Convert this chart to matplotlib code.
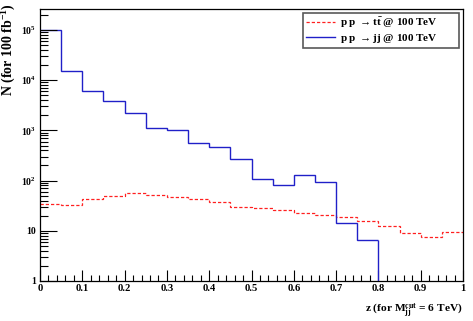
import numpy as np
import matplotlib
matplotlib.use("Agg")
import matplotlib.pyplot as plt
from matplotlib.ticker import FixedLocator, NullFormatter

plt.rcParams['font.family'] = ['Liberation Serif', 'DejaVu Serif']
plt.rcParams['font.weight'] = 'bold'
plt.rcParams['mathtext.fontset'] = 'custom'
plt.rcParams['mathtext.rm'] = 'Liberation Serif:bold'
plt.rcParams['mathtext.it'] = 'Liberation Serif:bold'
plt.rcParams['mathtext.bf'] = 'Liberation Serif:bold'

# Data
bin_edges = [0.0, 0.05, 0.10, 0.15, 0.20, 0.25, 0.30, 0.35, 0.40, 0.45, 0.50,
             0.55, 0.60, 0.65, 0.70, 0.75, 0.80, 0.85, 0.90, 0.95, 1.0]
ttbar = [34, 33, 42.5, 49, 56, 52.5, 47, 42.5, 37, 30,
         29, 25.5, 23, 21, 19, 15.7, 12.5, 9.2, 7.5, 9.3]
dijet = [1.0e5, 1.55e4, 6.2e3, 3.9e3, 2.2e3, 1.1e3, 1.0e3, 550, 475, 265,
         106, 83, 129, 95, 14.5, 6.6, 0, 0, 0, 0]
x_ticks = [0, 0.1, 0.2, 0.3, 0.4, 0.5, 0.6, 0.7, 0.8, 0.9, 1]
x_tick_labels = ['0', '0.1', '0.2', '0.3', '0.4', '0.5', '0.6', '0.7', '0.8', '0.9', '1']
y_ticks = [1, 10, 100, 1e3, 1e4, 1e5]
y_tick_labels = ['1', '10', r'$10^{2}$', r'$10^{3}$', r'$10^{4}$', r'$10^{5}$']

fig = plt.figure(figsize=(4.73, 3.21), dpi=100)
ax = fig.add_axes([40/473, 1-281/321, 423/473, 272/321])

ymin, ymax = 1.0, 10**5.418
edges = np.array(bin_edges)
tt = np.array(ttbar)
jj = np.array(dijet)

ax.stairs(tt, edges, baseline=None, color='#ff2020', lw=0.9,
          linestyle=(0, (2.6, 1.6)), label=r'p p $\rightarrow$t$\bar{\mathrm{t}}$ @ 100 TeV')
nz = int(np.count_nonzero(jj))
ax.stairs(jj[:nz], edges[:nz+1], baseline=None, color='#2020c8', lw=1.0,
          label=r'p p $\rightarrow$jj @ 100 TeV')
ax.vlines(edges[nz], ymin, jj[nz-1], color='#2020c8', lw=1.0)

ax.set_yscale('log')
ax.set_xlim(0, 1)
ax.set_ylim(ymin, ymax)

ax.set_xticks(x_ticks)
ax.set_xticklabels(x_tick_labels)
ax.xaxis.set_minor_locator(FixedLocator(np.arange(0, 1.0001, 0.02)))
ax.set_yticks(y_ticks)
ax.set_yticklabels(y_tick_labels)
minor_y = [m * 10**d for d in range(0, 6) for m in range(2, 10) if m * 10**d < ymax]
ax.yaxis.set_minor_locator(FixedLocator(minor_y))
ax.yaxis.set_minor_formatter(NullFormatter())

ax.tick_params(axis='x', which='major', direction='in', length=8, width=0.8, labelsize=7.6, pad=2)
ax.tick_params(axis='x', which='minor', direction='in', length=4, width=0.8)
ax.tick_params(axis='y', which='major', direction='in', length=12, width=0.8, labelsize=7.0, pad=3)
ax.tick_params(axis='y', which='minor', direction='in', length=6, width=0.8)
for sp in ax.spines.values():
    sp.set_linewidth(0.9)

ax.set_xlabel(r'z (for M$_{jj}^{cut}$ = 6 TeV)', fontsize=8.2, fontweight='bold')
ax.xaxis.set_label_coords(1.0, -0.075)
ax.xaxis.label.set_horizontalalignment('right')
ax.xaxis.label.set_verticalalignment('top')
ax.set_ylabel(r'N (for 100 fb$^{-1}$)', fontsize=10, fontweight='bold')
ax.yaxis.set_label_coords(-0.074, 1.022)
ax.yaxis.label.set_horizontalalignment('right')
ax.yaxis.label.set_verticalalignment('center')

leg = ax.legend(loc='upper left', bbox_to_anchor=(0.622, 0.857, 0.3685, 0.128),
                mode='expand', borderaxespad=0, fancybox=False, framealpha=1,
                edgecolor='0.35', fontsize=8, handlelength=2.6, handletextpad=0.5,
                borderpad=0.25, labelspacing=0.2)
leg.get_frame().set_linewidth(1.2)
for t in leg.get_texts():
    t.set_fontweight('bold')

fig.savefig('out.png', dpi=100)
